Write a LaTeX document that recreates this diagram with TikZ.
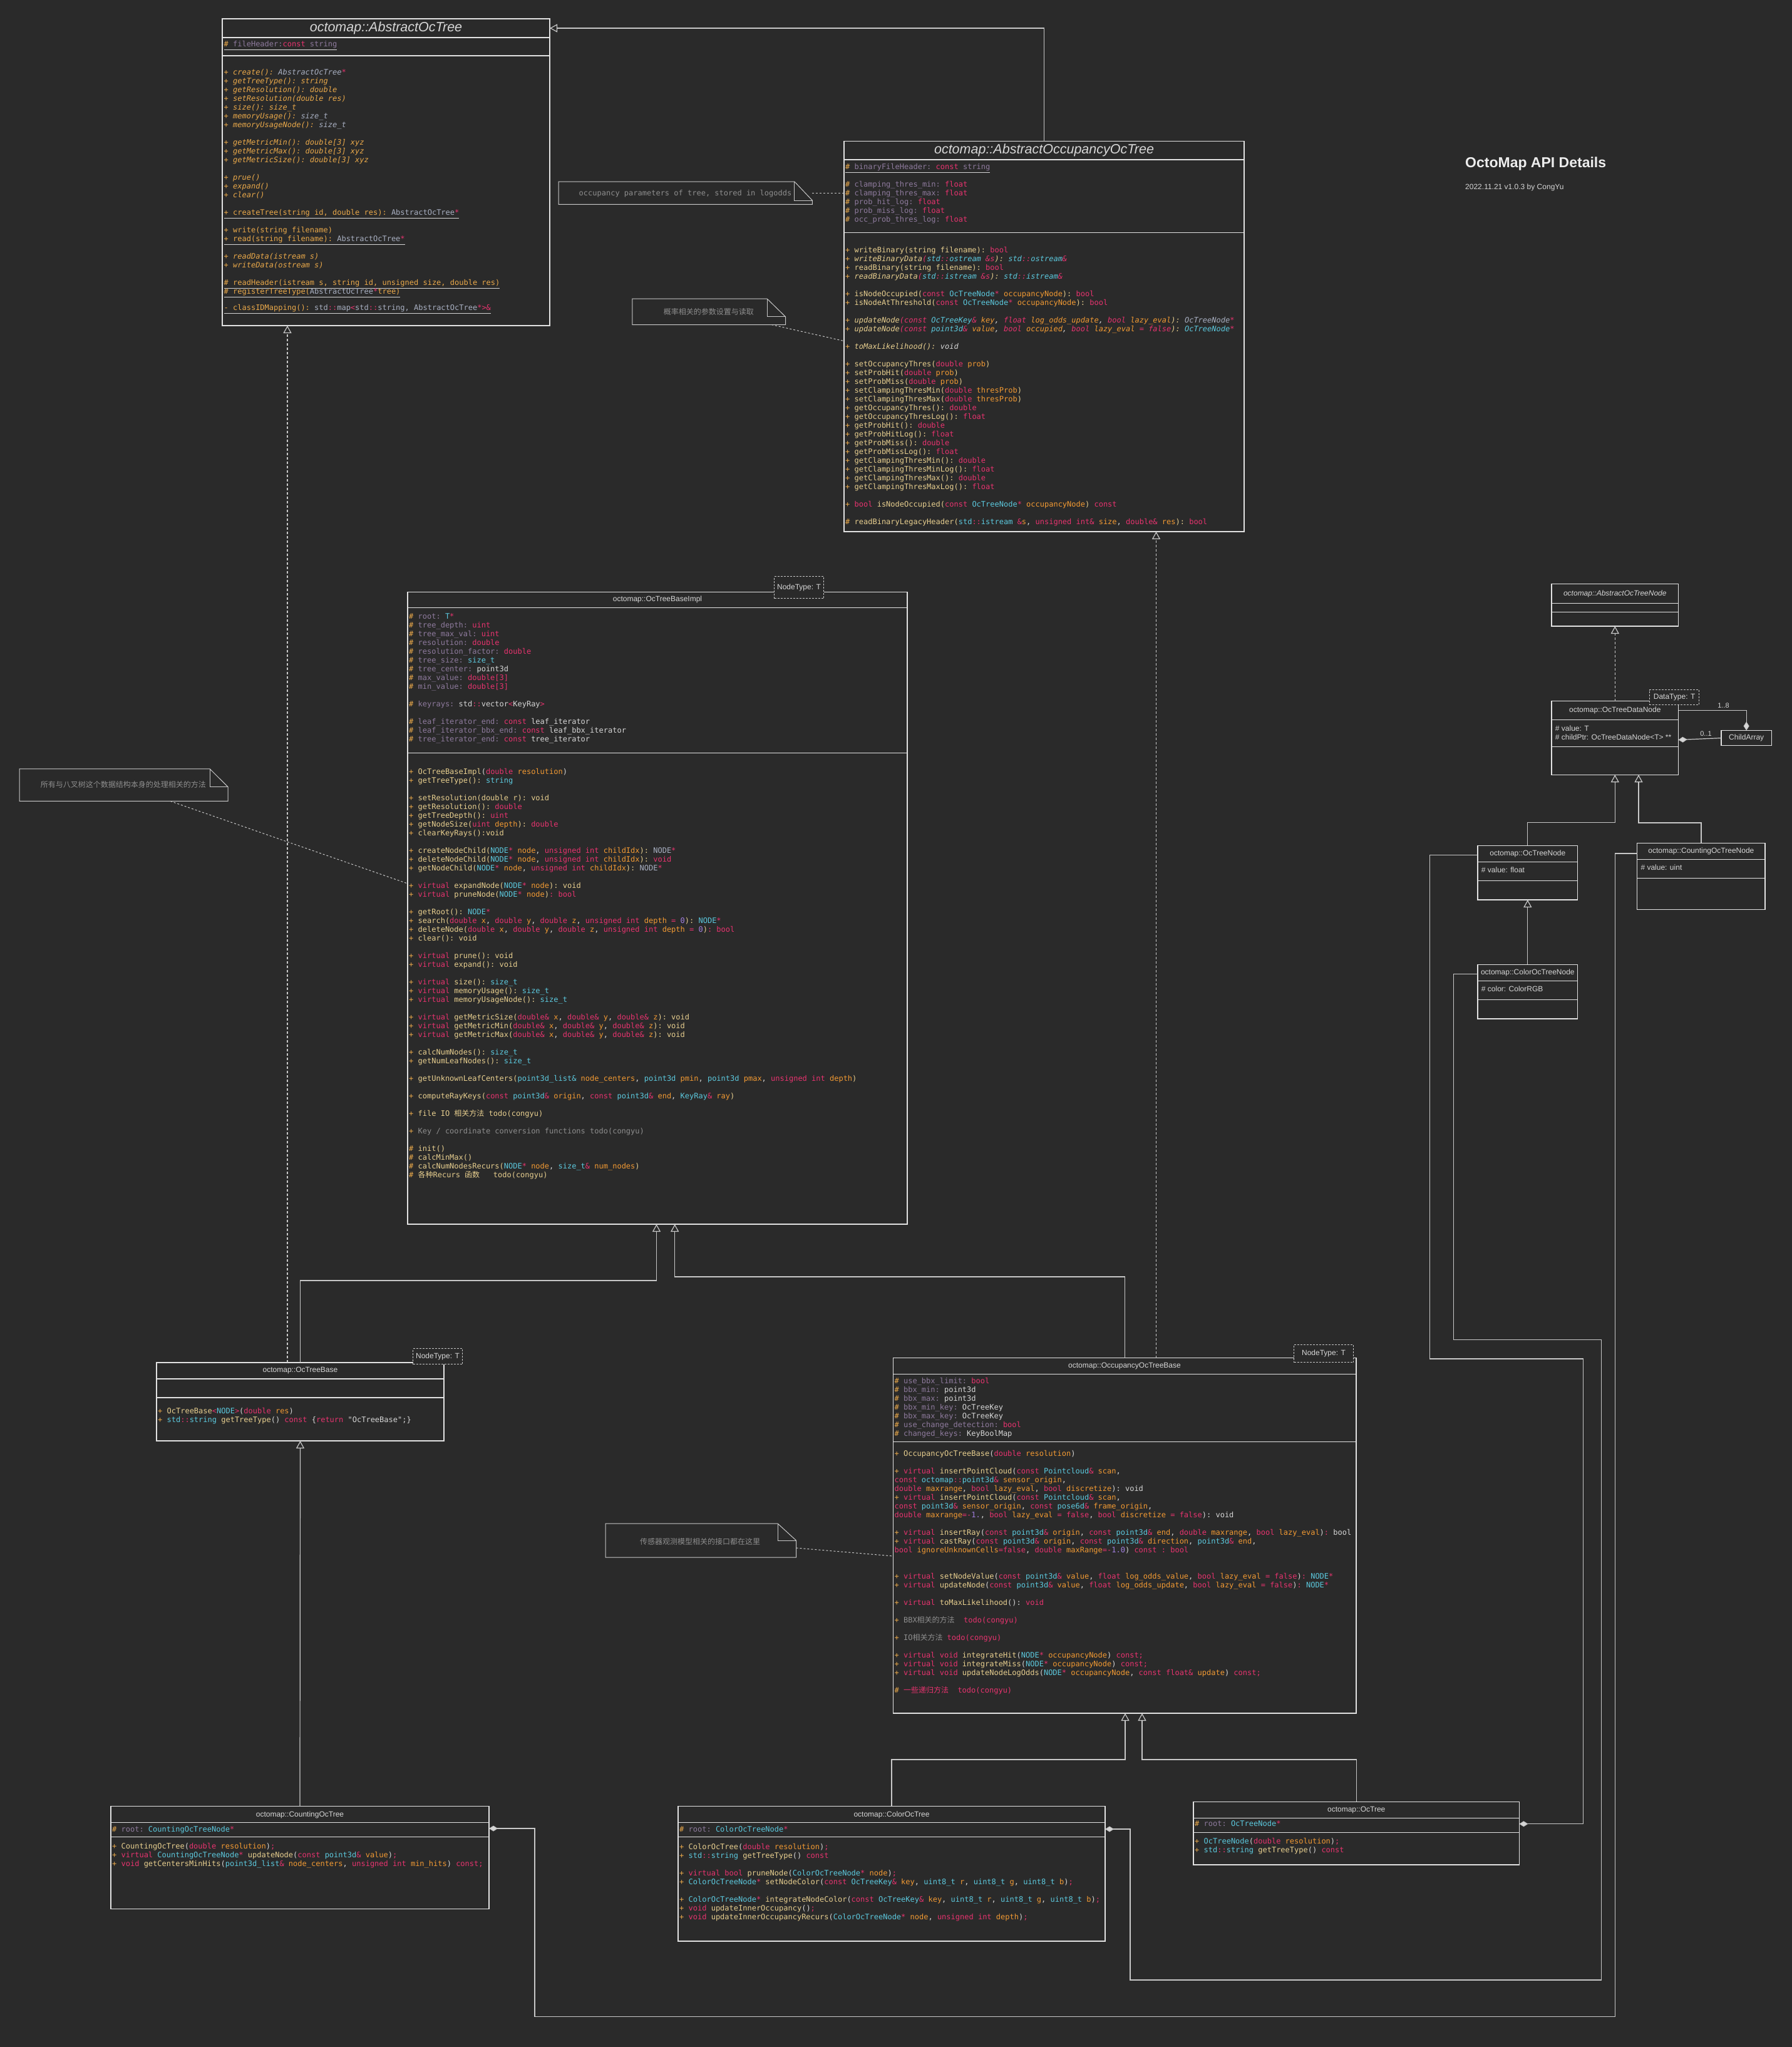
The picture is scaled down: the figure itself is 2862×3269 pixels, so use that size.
\documentclass[tikz,border=0pt]{standalone}
\usepackage{fontspec}
\setmainfont{Liberation Sans}
\setmonofont{DejaVu Sans Mono}
\newfontfamily\cjk{Noto Sans CJK SC}
\usetikzlibrary{arrows.meta}
\definecolor{bg}{HTML}{2A2A2A}
\definecolor{cL}{HTML}{C8C8C8}
\definecolor{cB}{HTML}{E2E2E2}
\definecolor{cO}{HTML}{EAA94A}
\definecolor{cM}{HTML}{E8CF8F}
\definecolor{cP}{HTML}{F29A33}
\definecolor{cK}{HTML}{E8336F}
\definecolor{cT}{HTML}{5CC9DE}
\definecolor{cF}{HTML}{8F7B9E}
\definecolor{cW}{HTML}{D6D6D6}
\definecolor{cG}{HTML}{A9B0C2}
\definecolor{cN}{HTML}{A27FE0}
\definecolor{cC}{HTML}{8E8E8E}
\newcommand\xO[1]{\textcolor{cO}{#1}}
\newcommand\xM[1]{\textcolor{cM}{#1}}
\newcommand\xP[1]{\textcolor{cP}{#1}}
\newcommand\xK[1]{\textcolor{cK}{#1}}
\newcommand\xT[1]{\textcolor{cT}{#1}}
\newcommand\xF[1]{\textcolor{cF}{#1}}
\newcommand\xW[1]{\textcolor{cW}{#1}}
\newcommand\xG[1]{\textcolor{cG}{#1}}
\newcommand\xN[1]{\textcolor{cN}{#1}}
\newcommand\xC[1]{\textcolor{cC}{#1}}
\tikzset{
  clsbox/.style={draw=cB, line width=1.2pt, inner sep=0pt, outer sep=0pt},
  clsdiv/.style={draw=cB, line width=1.2pt},
  monotxt/.style={font={\fontsize{12}{14}\selectfont\ttfamily\lineskiplimit=-50pt}, align=left, inner sep=0pt, text=cW, anchor=north west},
  sanstxt/.style={font={\fontsize{12}{14}\selectfont}, align=left, inner sep=0pt, text=cW, anchor=north west},
  clshead/.style={font={\fontsize{12}{14}\selectfont}, text=cW, inner sep=0pt},
  bighead/.style={font={\fontsize{21.5}{24}\selectfont\itshape}, text=cW, inner sep=0pt},
  genarrow/.style={draw=cL, line width=1.2pt, -{Triangle[open, length=12pt, width=13pt]}},
  realarrow/.style={genarrow, dash pattern=on 4pt off 3pt},
  comparrow/.style={draw=cL, line width=1.2pt, {Diamond[length=14pt, width=9pt, fill=cW]}-},
  noteline/.style={draw=cL, line width=1pt},
  notelink/.style={draw=cL, line width=1pt, dash pattern=on 3pt off 3pt},
  notetxt/.style={font={\fontsize{12}{14}\selectfont}, text=cC, inner sep=0pt},
  tparam/.style={draw=cL, line width=1pt, dash pattern=on 3pt off 2pt, fill=bg, font={\fontsize{12}{14}\selectfont}, text=cW, inner sep=0pt, anchor=north west},
  mult/.style={font={\fontsize{11}{13}\selectfont}, text=cW, inner sep=0pt},
}
\newcommand\clsbox[7]{%
  \node[clsbox, anchor=north west, minimum width=#4pt-#2pt, minimum height=#5pt-#3pt] (#1) at (#2,#3) {};
  \draw[clsdiv] (#2,#6) -- (#4,#6);
  \draw[clsdiv] (#2,#7) -- (#4,#7);}
\begin{document}
\begin{tikzpicture}[x=1pt,y=-1pt]
\fill[bg] (0,0) rectangle (2862,3269);
\useasboundingbox (0,0) rectangle (2862,3269);

% ---------- title ----------
\node[font={\fontsize{23}{26}\selectfont\bfseries}, text=white!93!black, anchor=base west, inner sep=0pt] (title) at (2340,267) {OctoMap API Details};
\node[font={\fontsize{12}{14}\selectfont}, text=cW, anchor=base west, inner sep=0pt] (subtitle) at (2340,302) {2022.11.21 v1.0.3 by CongYu};

% ---------- AbstractOcTree ----------
\clsbox{aot}{355}{30}{878}{520}{60}{89}
\node[bighead] (aot-t) at (616.5,45) {octomap::AbstractOcTree};
\node[monotxt] (aot-a) at (357.5,64.9) {\strut\underline{\xO{\#} \xF{fileHeader:}\xK{const} \xF{string}}};
\node[monotxt] (aot-m) at (357.5,109.9) {\strut{\itshape\xO{+ create(): }\xG{AbstractOcTree}\xK{*}}\\
{\itshape\xO{+ getTreeType(): string}}\\
{\itshape\xO{+ getResolution(): double}}\\
{\itshape\xO{+ setResolution(double res)}}\\
{\itshape\xO{+ size(): size\_t}}\\
{\itshape\xO{+ memoryUsage(): }\xG{size\_t}}\\
{\itshape\xO{+ memoryUsageNode(): }\xG{size\_t}}\\[14pt]
{\itshape\xO{+ getMetricMin(): double[3] xyz}}\\
{\itshape\xO{+ getMetricMax(): double[3] xyz}}\\
{\itshape\xO{+ getMetricSize(): double[3] xyz}}\\[14pt]
{\itshape\xO{+ prue()}}\\
{\itshape\xO{+ expand()}}\\
{\itshape\xO{+ clear()}}\\[14pt]
\underline{\xO{+ createTree(string id, double res): }\xG{AbstractOcTree}\xK{*}}\\[14pt]
\xO{+ write(string filename)}\\
\underline{\xO{+ read(string filename): }\xG{AbstractOcTree}\xK{*}}\\[14pt]
{\itshape\xO{+ readData(istream s)}}\\
{\itshape\xO{+ writeData(ostream s)}}\\[14pt]
\underline{\xO{\# readHeader(istream s, string id, unsigned size, double res)}}\\
\underline{\xO{\# registerTreeType(}\xG{AbstractOcTree}\xK{*}\xO{ tree)}}\\[12pt]
\underline{\xO{- classIDMapping(): }\xG{std}\xK{::}\xG{map}\xK{<}\xG{std}\xK{::}\xG{string, AbstractOcTree}\xK{*>\&}}};

% ---------- AbstractOccupancyOcTree ----------
\clsbox{aoot}{1348}{225.7}{1987}{849}{255}{371.7}
\node[bighead] (aoot-t) at (1667.5,240.3) {octomap::AbstractOccupancyOcTree};
\node[monotxt] (aoot-a) at (1350,260.9) {\strut\underline{\xO{\#} \xF{binaryFileHeader:} \xK{const} \xF{string}}\\[14pt]
\xO{\#} \xF{clamping\_thres\_min:} \xK{float}\\
\xO{\#} \xF{clamping\_thres\_max:} \xK{float}\\
\xO{\#} \xF{prob\_hit\_log:} \xK{float}\\
\xO{\#} \xF{prob\_miss\_log:} \xK{float}\\
\xO{\#} \xF{occ\_prob\_thres\_log:} \xK{float}};
\node[monotxt] (aoot-m) at (1350,393.2) {\strut\xO{+} \xM{writeBinary(string filename):} \xK{bool}\\
{\itshape\xO{+} \xM{writeBinaryData}\xK{(}\xT{std}\xK{::}\xT{ostream} \xK{\&s}\xM{):} \xT{std}\xK{::}\xT{ostream}\xK{\&}}\\
\xO{+} \xM{readBinary(string filename):} \xK{bool}\\
{\itshape\xO{+} \xM{readBinaryData}\xK{(}\xT{std}\xK{::}\xT{istream} \xK{\&s}\xM{):} \xT{std}\xK{::}\xT{istream}\xK{\&}}\\[14pt]
\xO{+} \xM{isNodeOccupied(}\xK{const} \xT{OcTreeNode}\xK{*} \xP{occupancyNode}\xM{):} \xK{bool}\\
\xO{+} \xM{isNodeAtThreshold(}\xK{const} \xT{OcTreeNode}\xK{*} \xP{occupancyNode}\xM{):} \xK{bool}\\[14pt]
{\itshape\xO{+} \xM{updateNode}\xK{(const} \xT{OcTreeKey}\xK{\&} \xP{key}\xW{,} \xK{float} \xP{log\_odds\_update}\xW{,} \xK{bool} \xP{lazy\_eval}\xM{):} \xG{OcTreeNode}\xK{*}}\\
{\itshape\xO{+} \xM{updateNode}\xK{(const} \xT{point3d}\xK{\&} \xP{value}\xW{,} \xK{bool} \xP{occupied}\xW{,} \xK{bool} \xP{lazy\_eval} \xK{= false}\xM{):} \xT{OcTreeNode}\xK{*}}\\[14pt]
{\itshape\xO{+} \xM{toMaxLikelihood():} \xW{void}}\\[14pt]
\xO{+} \xM{setOccupancyThres(}\xK{double} \xP{prob}\xM{)}\\
\xO{+} \xM{setProbHit(}\xK{double} \xP{prob}\xM{)}\\
\xO{+} \xM{setProbMiss(}\xK{double} \xP{prob}\xM{)}\\
\xO{+} \xM{setClampingThresMin(}\xK{double} \xP{thresProb}\xM{)}\\
\xO{+} \xM{setClampingThresMax(}\xK{double} \xP{thresProb}\xM{)}\\
\xO{+} \xM{getOccupancyThres():} \xK{double}\\
\xO{+} \xM{getOccupancyThresLog():} \xK{float}\\
\xO{+} \xM{getProbHit():} \xK{double}\\
\xO{+} \xM{getProbHitLog():} \xK{float}\\
\xO{+} \xM{getProbMiss():} \xK{double}\\
\xO{+} \xM{getProbMissLog():} \xK{float}\\
\xO{+} \xM{getClampingThresMin():} \xK{double}\\
\xO{+} \xM{getClampingThresMinLog():} \xK{float}\\
\xO{+} \xM{getClampingThresMax():} \xK{double}\\
\xO{+} \xM{getClampingThresMaxLog():} \xK{float}\\[14pt]
\xO{+} \xK{bool} \xM{isNodeOccupied(}\xK{const} \xT{OcTreeNode}\xK{*} \xP{occupancyNode}\xM{)} \xK{const}\\[14pt]
\xO{\#} \xM{readBinaryLegacyHeader(}\xT{std}\xK{::}\xT{istream} \xK{\&}\xP{s}\xW{,} \xK{unsigned int\&} \xP{size}\xW{,} \xK{double\&} \xP{res}\xM{):} \xK{bool}};

% ---------- OcTreeBaseImpl ----------
\clsbox{impl}{651}{945.3}{1449}{1955}{970.3}{1202.7}
\node[clshead] (impl-t) at (1050,957.8) {octomap::OcTreeBaseImpl};
\node[monotxt] (impl-a) at (653,978.9) {\strut\xO{\#} \xF{root:} \xT{T}\xK{*}\\
\xO{\#} \xF{tree\_depth:} \xK{uint}\\
\xO{\#} \xF{tree\_max\_val:} \xK{uint}\\
\xO{\#} \xF{resolution:} \xK{double}\\
\xO{\#} \xF{resolution\_factor:} \xK{double}\\
\xO{\#} \xF{tree\_size:} \xT{size\_t}\\
\xO{\#} \xF{tree\_center:} \xW{point3d}\\
\xO{\#} \xF{max\_value:} \xK{double[3]}\\
\xO{\#} \xF{min\_value:} \xK{double[3]}\\[14pt]
\xO{\#} \xF{keyrays:} \xW{std}\xK{::}\xW{vector}\xK{<}\xW{KeyRay}\xK{>}\\[14pt]
\xO{\#} \xF{leaf\_iterator\_end:} \xK{const} \xW{leaf\_iterator}\\
\xO{\#} \xF{leaf\_iterator\_bbx\_end:} \xK{const} \xW{leaf\_bbx\_iterator}\\
\xO{\#} \xF{tree\_iterator\_end:} \xK{const} \xW{tree\_iterator}};
\node[monotxt] (impl-m) at (653,1226.9) {\strut\xO{+} \xM{OcTreeBaseImpl}\xW{(}\xK{double} \xP{resolution}\xW{)}\\
\xO{+} \xM{getTreeType():} \xT{string}\\[14pt]
\xO{+} \xM{setResolution(double r): void}\\
\xO{+} \xM{getResolution():} \xK{double}\\
\xO{+} \xM{getTreeDepth():} \xK{uint}\\
\xO{+} \xM{getNodeSize(}\xK{uint} \xP{depth}\xM{):} \xK{double}\\
\xO{+} \xM{clearKeyRays():void}\\[14pt]
\xO{+} \xM{createNodeChild(}\xT{NODE}\xK{*} \xP{node}\xW{,} \xK{unsigned int} \xP{childIdx}\xM{):} \xG{NODE}\xK{*}\\
\xO{+} \xM{deleteNodeChild(}\xT{NODE}\xK{*} \xP{node}\xW{,} \xK{unsigned int} \xP{childIdx}\xM{):} \xK{void}\\
\xO{+} \xM{getNodeChild(}\xT{NODE}\xK{*} \xP{node}\xW{,} \xK{unsigned int} \xP{childIdx}\xM{):} \xG{NODE}\xK{*}\\[14pt]
\xO{+} \xK{virtual} \xM{expandNode(}\xT{NODE}\xK{*} \xP{node}\xM{): void}\\
\xO{+} \xK{virtual} \xM{pruneNode(}\xT{NODE}\xK{*} \xP{node}\xM{)}\xK{: bool}\\[14pt]
\xO{+} \xM{getRoot():} \xT{NODE}\xK{*}\\
\xO{+} \xM{search(}\xK{double} \xP{x}\xW{,} \xK{double} \xP{y}\xW{,} \xK{double} \xP{z}\xW{,} \xK{unsigned int} \xP{depth} \xK{=} \xN{0}\xM{):} \xT{NODE}\xK{*}\\
\xO{+} \xM{deleteNode(}\xK{double} \xP{x}\xW{,} \xK{double} \xP{y}\xW{,} \xK{double} \xP{z}\xW{,} \xK{unsigned int} \xP{depth} \xK{=} \xN{0}\xM{)}\xK{: bool}\\
\xO{+} \xM{clear(): void}\\[14pt]
\xO{+} \xK{virtual} \xM{prune(): void}\\
\xO{+} \xK{virtual} \xM{expand(): void}\\[14pt]
\xO{+} \xK{virtual} \xM{size():} \xT{size\_t}\\
\xO{+} \xK{virtual} \xM{memoryUsage():} \xT{size\_t}\\
\xO{+} \xK{virtual} \xM{memoryUsageNode():} \xT{size\_t}\\[14pt]
\xO{+} \xK{virtual} \xM{getMetricSize(}\xK{double\&} \xP{x}\xW{,} \xK{double\&} \xP{y}\xW{,} \xK{double\&} \xP{z}\xM{): void}\\
\xO{+} \xK{virtual} \xM{getMetricMin(}\xK{double\&} \xP{x}\xW{,} \xK{double\&} \xP{y}\xW{,} \xK{double\&} \xP{z}\xM{): void}\\
\xO{+} \xK{virtual} \xM{getMetricMax(}\xK{double\&} \xP{x}\xW{,} \xK{double\&} \xP{y}\xW{,} \xK{double\&} \xP{z}\xM{): void}\\[14pt]
\xO{+} \xM{calcNumNodes():} \xT{size\_t}\\
\xO{+} \xM{getNumLeafNodes():} \xT{size\_t}\\[14pt]
\xO{+} \xM{getUnknownLeafCenters(}\xT{point3d\_list\&} \xP{node\_centers}\xW{,} \xT{point3d} \xP{pmin}\xW{,} \xT{point3d} \xP{pmax}\xW{,} \xK{unsigned int} \xP{depth}\xM{)}\\[14pt]
\xO{+} \xM{computeRayKeys(}\xK{const} \xT{point3d}\xK{\&} \xP{origin}\xW{,} \xK{const} \xT{point3d}\xK{\&} \xP{end}\xW{,} \xT{KeyRay}\xK{\&} \xP{ray}\xM{)}\\[14pt]
\xO{+} \xM{file IO {\cjk 相关方法} todo(congyu)}\\[14pt]
\xO{+} \xC{Key / coordinate conversion functions todo(congyu)}\\[14pt]
\xO{\#} \xM{init()}\\
\xO{\#} \xM{calcMinMax()}\\
\xO{\#} \xM{calcNumNodesRecurs(}\xT{NODE}\xK{*} \xP{node}\xW{,} \xT{size\_t}\xK{\&} \xP{num\_nodes}\xM{)}\\
\xO{\#} \xM{{\cjk 各种}Recurs {\cjk 函数}\ \ \ todo(congyu)}};
\node[tparam, minimum width=79pt, minimum height=35pt] (impl-T) at (1236,920) {NodeType: T};

% ---------- OccupancyOcTreeBase ----------
\clsbox{oob}{1426.4}{2168.7}{2166}{2736}{2194.7}{2302.7}
\node[clshead] (oob-t) at (1796,2182) {octomap::OccupancyOcTreeBase};
\node[monotxt] (oob-a) at (1428.4,2199.9) {\strut\xO{\#} \xF{use\_bbx\_limit:} \xK{bool}\\
\xO{\#} \xF{bbx\_min:} \xW{point3d}\\
\xO{\#} \xF{bbx\_max:} \xW{point3d}\\
\xO{\#} \xF{bbx\_min\_key:} \xW{OcTreeKey}\\
\xO{\#} \xF{bbx\_max\_key:} \xW{OcTreeKey}\\
\xO{\#} \xF{use\_change\_detection:} \xK{bool}\\
\xO{\#} \xF{changed\_keys:} \xW{KeyBoolMap}};
\node[monotxt] (oob-m) at (1428.4,2315.5) {\strut\xO{+} \xM{OccupancyOcTreeBase}\xW{(}\xK{double} \xP{resolution}\xW{)}\\[14pt]
\xO{+} \xK{virtual} \xM{insertPointCloud}\xW{(}\xK{const} \xT{Pointcloud}\xK{\&} \xP{scan}\xW{,}\\
\xK{const} \xT{octomap}\xK{::}\xT{point3d}\xK{\&} \xP{sensor\_origin}\xW{,}\\
\xK{double} \xP{maxrange}\xW{,} \xK{bool} \xP{lazy\_eval}\xW{,} \xK{bool} \xP{discretize}\xW{): void}\\
\xO{+} \xK{virtual} \xM{insertPointCloud}\xW{(}\xK{const} \xT{Pointcloud}\xK{\&} \xP{scan}\xW{,}\\
\xK{const} \xT{point3d}\xK{\&} \xP{sensor\_origin}\xW{,} \xK{const} \xT{pose6d}\xK{\&} \xP{frame\_origin}\xW{,}\\
\xK{double} \xP{maxrange}\xK{=-}\xN{1.}\xW{,} \xK{bool} \xP{lazy\_eval} \xK{= false}\xW{,} \xK{bool} \xP{discretize} \xK{= false}\xW{): void}\\[14pt]
\xO{+} \xK{virtual} \xM{insertRay}\xW{(}\xK{const} \xT{point3d}\xK{\&} \xP{origin}\xW{,} \xK{const} \xT{point3d}\xK{\&} \xP{end}\xW{,} \xK{double} \xP{maxrange}\xW{,} \xK{bool} \xP{lazy\_eval}\xW{)}\xK{:} \xW{bool}\\
\xO{+} \xK{virtual} \xM{castRay}\xW{(}\xK{const} \xT{point3d}\xK{\&} \xP{origin}\xW{,} \xK{const} \xT{point3d}\xK{\&} \xP{direction}\xW{,} \xT{point3d}\xK{\&} \xP{end}\xW{,}\\
\xK{bool} \xP{ignoreUnknownCells}\xK{=false}\xW{,} \xK{double} \xP{maxRange}\xK{=-}\xN{1.0}\xW{)} \xK{const : bool}\\[28pt]
\xO{+} \xK{virtual} \xM{setNodeValue}\xW{(}\xK{const} \xT{point3d}\xK{\&} \xP{value}\xW{,} \xK{float} \xP{log\_odds\_value}\xW{,} \xK{bool} \xP{lazy\_eval} \xK{= false}\xW{)}\xK{:} \xT{NODE}\xK{*}\\
\xO{+} \xK{virtual} \xM{updateNode}\xW{(}\xK{const} \xT{point3d}\xK{\&} \xP{value}\xW{,} \xK{float} \xP{log\_odds\_update}\xW{,} \xK{bool} \xP{lazy\_eval} \xK{= false}\xW{)}\xK{:} \xT{NODE}\xK{*}\\[14pt]
\xO{+} \xK{virtual} \xM{toMaxLikelihood}\xW{():} \xK{void}\\[14pt]
\xO{+} \xC{BBX{\cjk 相关的方法}}\ \ \xK{todo(congyu)}\\[14pt]
\xO{+} \xC{IO{\cjk 相关方法}} \xK{todo(congyu)}\\[14pt]
\xO{+} \xK{virtual void} \xM{integrateHit}\xW{(}\xT{NODE}\xK{*} \xP{occupancyNode}\xW{)} \xK{const;}\\
\xO{+} \xK{virtual void} \xM{integrateMiss}\xW{(}\xT{NODE}\xK{*} \xP{occupancyNode}\xW{)} \xK{const;}\\
\xO{+} \xK{virtual void} \xM{updateNodeLogOdds}\xW{(}\xT{NODE}\xK{*} \xP{occupancyNode}\xW{,} \xK{const float\&} \xP{update}\xW{)} \xK{const;}\\[14pt]
\xO{\#} \xK{{\cjk 一些递归方法}\ \ todo(congyu)}};
\node[tparam, minimum width=95pt, minimum height=28.3pt] (oob-T) at (2066,2147) {NodeType: T};

% ---------- OcTreeBase ----------
\clsbox{otb}{250}{2176}{709}{2301}{2202}{2232}
\node[clshead] (otb-t) at (479.5,2189) {octomap::OcTreeBase};
\node[monotxt] (otb-m) at (252,2247.2) {\strut\xO{+} \xM{OcTreeBase}\xK{<}\xT{NODE}\xK{>}\xW{(}\xK{double} \xP{res}\xW{)}\\
\xO{+} \xT{std}\xK{::}\xT{string} \xM{getTreeType}\xW{()} \xK{const} \xW{\{}\xK{return} \xW{"OcTreeBase";\}}};
\node[tparam, minimum width=79pt, minimum height=25pt] (otb-T) at (659,2153) {NodeType: T};

% ---------- CountingOcTree ----------
\clsbox{cnt}{177}{2884.3}{781}{3048.7}{2910.3}{2933.7}
\node[clshead] (cnt-t) at (479,2898) {octomap::CountingOcTree};
\node[monotxt] (cnt-a) at (179,2915.2) {\strut\xO{\#} \xF{root:} \xT{CountingOcTreeNode}\xK{*}};
\node[monotxt] (cnt-m) at (179,2942.2) {\strut\xO{+} \xM{CountingOcTree}\xW{(}\xK{double} \xP{resolution}\xW{)}\xK{;}\\
\xO{+} \xK{virtual} \xT{CountingOcTreeNode}\xK{*} \xM{updateNode}\xW{(}\xK{const} \xT{point3d}\xK{\&} \xP{value}\xW{)}\xK{;}\\
\xO{+} \xK{void} \xM{getCentersMinHits}\xW{(}\xT{point3d\_list}\xK{\&} \xP{node\_centers}\xW{,} \xK{unsigned int} \xP{min\_hits}\xW{)} \xK{const;}};

% ---------- ColorOcTree ----------
\clsbox{col}{1083}{2884.3}{1765}{3100}{2910.3}{2933.7}
\node[clshead] (col-t) at (1424,2898) {octomap::ColorOcTree};
\node[monotxt] (col-a) at (1085,2915.2) {\strut\xO{\#} \xF{root:} \xT{ColorOcTreeNode}\xK{*}};
\node[monotxt] (col-m) at (1085,2943.9) {\strut\xO{+} \xM{ColorOcTree}\xW{(}\xK{double} \xP{resolution}\xW{)}\xK{;}\\
\xO{+} \xT{std}\xK{::}\xT{string} \xM{getTreeType}\xW{()} \xK{const}\\[14pt]
\xO{+} \xK{virtual bool} \xM{pruneNode}\xW{(}\xT{ColorOcTreeNode}\xK{*} \xP{node}\xW{)}\xK{;}\\
\xO{+} \xT{ColorOcTreeNode}\xK{*} \xM{setNodeColor}\xW{(}\xK{const} \xT{OcTreeKey}\xK{\&} \xP{key}\xW{,} \xT{uint8\_t} \xP{r}\xW{,} \xT{uint8\_t} \xP{g}\xW{,} \xT{uint8\_t} \xP{b}\xW{)}\xK{;}\\[14pt]
\xO{+} \xT{ColorOcTreeNode}\xK{*} \xM{integrateNodeColor}\xW{(}\xK{const} \xT{OcTreeKey}\xK{\&} \xP{key}\xW{,} \xT{uint8\_t} \xP{r}\xW{,} \xT{uint8\_t} \xP{g}\xW{,} \xT{uint8\_t} \xP{b}\xW{)}\xK{;}\\
\xO{+} \xK{void} \xM{updateInnerOccupancy}\xW{()}\xK{;}\\
\xO{+} \xK{void} \xM{updateInnerOccupancyRecurs}\xW{(}\xT{ColorOcTreeNode}\xK{*} \xP{node}\xW{,} \xK{unsigned int} \xP{depth}\xW{)}\xK{;}};

% ---------- OcTree ----------
\clsbox{oct}{1906}{2877.3}{2426.4}{2978}{2903.3}{2926.3}
\node[clshead] (oct-t) at (2166.2,2890.7) {octomap::OcTree};
\node[monotxt] (oct-a) at (1908,2906.9) {\strut\xO{\#} \xF{root:} \xT{OcTreeNode}\xK{*}};
\node[monotxt] (oct-m) at (1908,2934.9) {\strut\xO{+} \xT{OcTreeNode}\xW{(}\xK{double} \xP{resolution}\xW{)}\xK{;}\\
\xO{+} \xT{std}\xK{::}\xT{string} \xM{getTreeType}\xW{()} \xK{const}};

% ---------- node classes (right) ----------
\clsbox{aon}{2478}{932.4}{2680.5}{1000}{963.6}{977.5}
\node[clshead, font={\fontsize{12}{14}\selectfont\itshape}] (aon-t) at (2579.3,948) {octomap::AbstractOcTreeNode};
\clsbox{odn}{2478}{1119.5}{2680.5}{1237.3}{1149.8}{1192.6}
\node[clshead] (odn-t) at (2579.3,1134.6) {octomap::OcTreeDataNode};
\node[sanstxt] (odn-a) at (2483.7,1157.9) {\strut\# value: T\\\# childPtr: OcTreeDataNode<T> **};
\node[tparam, minimum width=79.6pt, minimum height=23.6pt] (odn-T) at (2633.8,1101.4) {DataType: T};
\node[clsbox, anchor=north west, minimum width=80.3pt, minimum height=24.2pt, font={\fontsize{12}{14}\selectfont}, text=cW] (carr) at (2749,1166.5) {ChildArray};
\clsbox{ocn}{2360}{1350.4}{2519.6}{1437}{1376.5}{1406.3}
\node[clshead] (ocn-t) at (2439.8,1363.4) {octomap::OcTreeNode};
\node[sanstxt] (ocn-a) at (2365.7,1383.7) {\strut\# value: float};
\clsbox{cnn}{2614.8}{1346.2}{2819}{1452.8}{1372.3}{1402.6}
\node[clshead] (cnn-t) at (2716.9,1359.3) {octomap::CountingOcTreeNode};
\node[sanstxt] (cnn-a) at (2620.3,1379.5) {\strut\# value: uint};
\clsbox{con}{2360}{1540.4}{2519.6}{1627}{1566.4}{1596.3}
\node[clshead] (con-t) at (2439.8,1553.4) {octomap::ColorOcTreeNode};
\node[sanstxt] (con-a) at (2365.7,1573.7) {\strut\# color: ColorRGB};

% ---------- notes ----------
\draw[noteline] (892,290) -- (1268.8,290) -- (1297.3,320) -- (1297.3,326.3) -- (892,326.3) -- cycle;
\draw[noteline] (1268.8,290) -- (1268.8,320) -- (1297.3,320);
\node[notetxt, font={\fontsize{12}{14}\selectfont\ttfamily}] (note1) at (1094.5,308.8) {occupancy parameters of tree, stored in logodds};
\coordinate (n1r) at (1297.3,308);
\draw[notelink] (n1r) -- ([yshift=-82.3pt]aoot.north west);

\draw[noteline] (1009.8,477) -- (1225,477) -- (1254.5,505.8) -- (1254.5,518.5) -- (1009.8,518.5) -- cycle;
\draw[noteline] (1225,477) -- (1225,505.8) -- (1254.5,505.8);
\node[notetxt, font={\fontsize{12}{14}\selectfont\cjk}] (note2) at (1131.8,497.7) {概率相关的参数设置与读取};
\coordinate (n2r) at (1232,518.5);
\draw[notelink] (n2r) -- ([yshift=-318.9pt]aoot.north west);

\draw[noteline] (31,1227.8) -- (335,1227.8) -- (364,1256.6) -- (364,1279.4) -- (31,1279.4) -- cycle;
\draw[noteline] (335,1227.8) -- (335,1256.6) -- (364,1256.6);
\node[notetxt, font={\fontsize{12}{14}\selectfont\cjk}] (note3) at (196.8,1253.3) {所有与八叉树这个数据结构本身的处理相关的方法};
\coordinate (n3r) at (272,1279.4);
\draw[notelink] (n3r) -- ([yshift=-465.7pt]impl.north west);

\draw[noteline] (967,2433) -- (1242,2433) -- (1271.5,2460) -- (1271.5,2487) -- (967,2487) -- cycle;
\draw[noteline] (1242,2433) -- (1242,2460) -- (1271.5,2460);
\node[notetxt, font={\fontsize{12}{14}\selectfont\cjk}] (note4) at (1118,2462) {传感器观测模型相关的接口都在这里};
\coordinate (n4r) at (1271.5,2472);
\draw[notelink] (n4r) -- ([yshift=-316.3pt]oob.north west);

% ---------- inheritance ----------
\draw[genarrow] (aoot.north) |- ([yshift=-15pt]aot.north east);
\coordinate (cx459) at (459,0);
\draw[realarrow] (otb.north -| cx459) -- (aot.south -| cx459);
\coordinate (b1) at (1048.5,2045);
\draw[genarrow] (otb.north) |- (b1) -- (impl.south -| b1);
\coordinate (b2) at (1077.7,2039);
\draw[genarrow] (oob.north) |- (b2) -- (impl.south -| b2);
\coordinate (cx1846) at (1846.5,0);
\draw[realarrow] (oob.north -| cx1846) -- (aoot.south -| cx1846);
\draw[genarrow] (cnt.north) -- (otb.south);
\coordinate (b3) at (1797,2810);
\draw[genarrow] (col.north) |- (b3) -- (oob.south -| b3);
\coordinate (b4) at (1824,2810);
\draw[genarrow] (oct.north) |- (b4) -- (oob.south -| b4);

\draw[realarrow] (odn.north) -- (aon.south);
\coordinate (b5) at (0,1313.6);
\draw[genarrow] (ocn.north) |- (odn.south |- b5) -- (odn.south);
\coordinate (b6) at (2617,1314);
\draw[genarrow] (cnn.north) |- (b6) -- (odn.south -| b6);
\draw[genarrow] (con.north) -- (ocn.south);

% ---------- composition ----------
\draw[comparrow] (carr.north) |- ([yshift=-15pt]odn.north east);
\node[mult] (m18) at (2752.5,1127) {1..8};
\draw[comparrow] ([yshift=-62pt]odn.north east) -- (carr.west);
\node[mult] (m01) at (2724.5,1171.7) {0..1};

\coordinate (r1) at (2528.3,2170);
\coordinate (r2) at (2283.3,2170);
\draw[comparrow] ([yshift=-35.4pt]oct.north east) -| (r1) -| (r2) |- ([yshift=-15pt]ocn.north west);
\coordinate (s1) at (1805,3162);
\coordinate (s2) at (2557.3,2139.3);
\coordinate (s3) at (2321.3,2139.3);
\draw[comparrow] ([yshift=-36.7pt]col.north east) -| (s1) -| (s2) -| (s3) |- ([yshift=-15.3pt]con.north west);
\coordinate (t1) at (854,3220.6);
\coordinate (t2) at (2579.3,1363);
\draw[comparrow] ([yshift=-35.7pt]cnt.north east) -| (t1) -| (t2) -- ([yshift=-16.8pt]cnn.north west);
\end{tikzpicture}
\end{document}
